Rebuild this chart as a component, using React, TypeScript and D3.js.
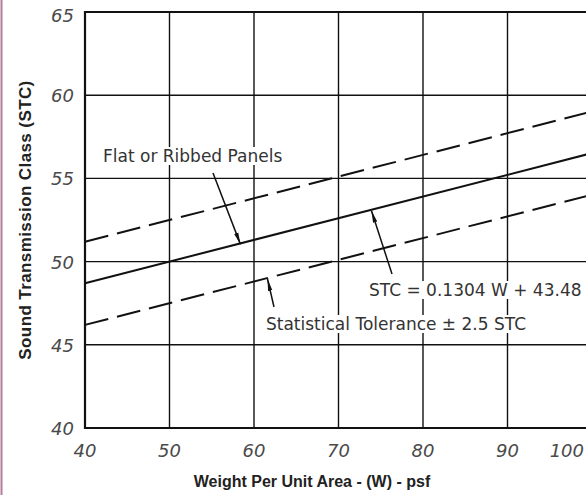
import React, { useEffect, useRef } from "react";
import * as d3 from "d3";

// axis ticks
const xTicks = [40, 50, 60, 70, 80, 90, 100];
const yTicks = [40, 45, 50, 55, 60, 65];

// regression: STC = 0.1304 W + 43.48, tolerance +/- 2.5
const slope = 0.1304;
const intercept = 43.48;
const tolerance = 2.5;
const weights = [40, 100];

// callouts: label position, arrow tail, and the weight where the arrow hits a line
const annotations = [
  { text: "Flat or Ribbed Panels", tx: 103, ty: 162, from: [213, 173], w: 58.4, line: 0 },
  { text: "STC = 0.1304 W + 43.48", tx: 369, ty: 296, from: [392, 274], w: 73.9, line: 0 },
  { text: "Statistical Tolerance \u00b1 2.5 STC", tx: 266, ty: 330, from: [274, 307], w: 61.6, line: -1 },
];

const App = () => {
  const svgRef = useRef<SVGSVGElement>(null);

  useEffect(() => {
    const width = 586;
    const height = 495;
    const svg = d3.select(svgRef.current);
    svg.selectAll("*").remove();
    svg.attr("width", width).attr("height", height);

    const x = d3.scaleLinear().domain([40, 100]).range([85, 592]);
    const y = d3.scaleLinear().domain([40, 65]).range([428, 12]);

    svg.append("rect").attr("width", width).attr("height", height).attr("fill", "#fff");
    svg.append("line")
      .attr("x1", 1.5).attr("x2", 1.5).attr("y1", 0).attr("y2", height)
      .attr("stroke", "#b57c9c").attr("stroke-width", 2);

    svg.append("defs").append("marker")
      .attr("id", "arrow")
      .attr("viewBox", "0 0 12 6")
      .attr("refX", 12).attr("refY", 3)
      .attr("markerWidth", 12).attr("markerHeight", 6)
      .attr("markerUnits", "userSpaceOnUse")
      .attr("orient", "auto")
      .append("path").attr("d", "M0,0.8 L12,3 L0,5.2 Z").attr("fill", "#111");

    const grid = svg.append("g").attr("stroke", "#111").attr("stroke-width", 1.4);
    grid.selectAll(".vx")
      .data(xTicks.slice(1))
      .enter().append("line")
      .attr("x1", d => x(d)).attr("x2", d => x(d))
      .attr("y1", y(65)).attr("y2", y(40));
    grid.selectAll(".hy")
      .data(yTicks.slice(1, -1))
      .enter().append("line")
      .attr("x1", x(40)).attr("x2", x(100))
      .attr("y1", d => y(d)).attr("y2", d => y(d));

    // frame
    svg.append("path")
      .attr("d", `M${x(100)},${y(65)} H${x(40)} V${y(40)} H${x(100)}`)
      .attr("fill", "none").attr("stroke", "#111").attr("stroke-width", 2.2);

    const bgLayer = svg.append("g");

    [0, tolerance, -tolerance].forEach(off => {
      svg.append("path")
        .datum(weights)
        .attr("d", d3.line<number>().x(d => x(d)).y(d => y(slope * d + intercept + off)))
        .attr("fill", "none")
        .attr("stroke", "#111")
        .attr("stroke-width", 2)
        .attr("stroke-dasharray", off === 0 ? null : "24,9");
    });

    // tick labels
    const tickFont = "'DejaVu Sans', sans-serif";
    svg.selectAll(".xt")
      .data(xTicks)
      .enter().append("text")
      .attr("x", d => (d === 100 ? 584 : x(d)))
      .attr("y", 457)
      .attr("text-anchor", d => (d === 100 ? "end" : "middle"))
      .attr("font-family", tickFont)
      .attr("font-style", "italic")
      .attr("font-size", 18)
      .attr("fill", "#4a4a4a")
      .text(d => d);
    svg.selectAll(".yt")
      .data(yTicks)
      .enter().append("text")
      .attr("x", 74)
      .attr("y", d => y(d) + (d === 65 ? 10 : 7))
      .attr("text-anchor", "end")
      .attr("font-family", tickFont)
      .attr("font-style", "italic")
      .attr("font-size", 18)
      .attr("fill", "#4a4a4a")
      .text(d => d);

    // axis titles
    svg.append("text")
      .attr("x", 312).attr("y", 487)
      .attr("text-anchor", "middle")
      .attr("font-family", "'Liberation Sans', Arial, sans-serif")
      .attr("font-weight", "bold")
      .attr("font-size", 16)
      .attr("fill", "#222")
      .text("Weight Per Unit Area - (W) - psf");
    svg.append("text")
      .attr("transform", `translate(31,${220}) rotate(-90)`)
      .attr("text-anchor", "middle")
      .attr("font-family", "'Liberation Sans', Arial, sans-serif")
      .attr("font-weight", "bold")
      .attr("font-size", 17)
      .attr("letter-spacing", 0.4)
      .attr("fill", "#222")
      .text("Sound Transmission Class (STC)");

    // annotations
    annotations.forEach(a => {
      const t = svg.append("text")
        .attr("x", a.tx).attr("y", a.ty)
        .attr("font-family", "'DejaVu Sans', sans-serif")
        .attr("font-size", 17)
        .attr("fill", "#333")
        .text(a.text);
      const bb = (t.node() as SVGTextElement).getBBox();
      bgLayer.append("rect")
        .attr("x", bb.x - 3).attr("y", bb.y + 1)
        .attr("width", bb.width + 6).attr("height", bb.height - 2)
        .attr("fill", "#fff");
      svg.append("line")
        .attr("x1", a.from[0]).attr("y1", a.from[1])
        .attr("x2", x(a.w)).attr("y2", y(slope * a.w + intercept + a.line * tolerance) + 1)
        .attr("stroke", "#111").attr("stroke-width", 1.5)
        .attr("marker-end", "url(#arrow)");
    });
  }, []);

  return (
    <svg ref={svgRef} style={{ position: "absolute", left: 0, top: 0, display: "block" }} />
  );
};

export default App;
